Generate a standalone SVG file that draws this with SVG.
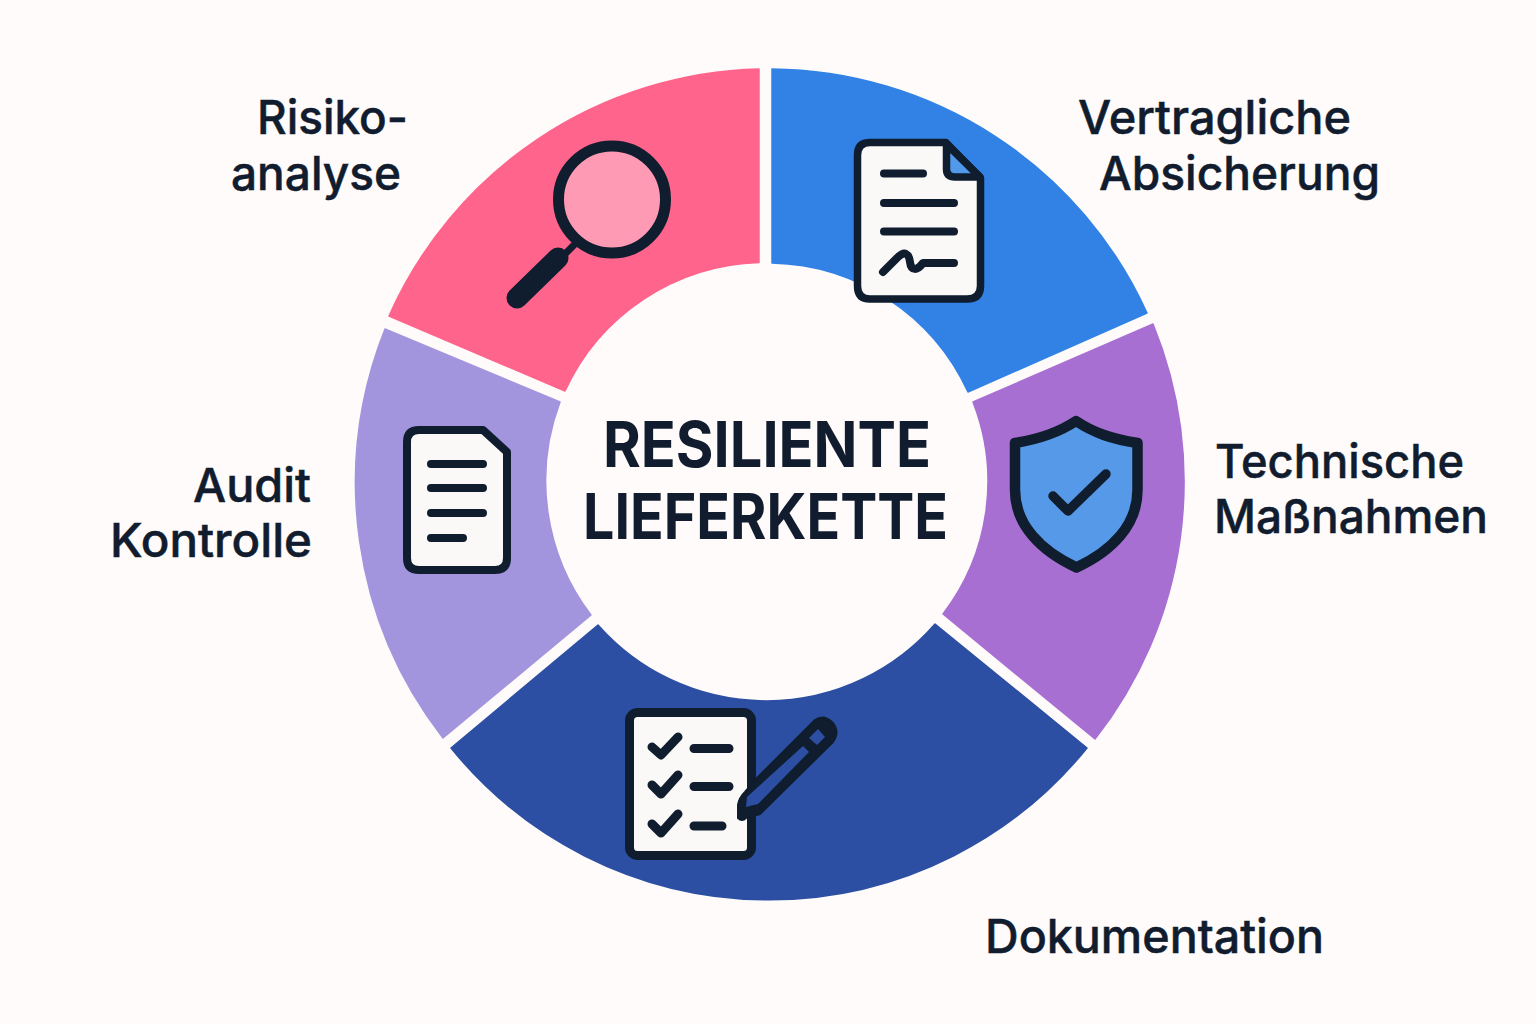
<svg xmlns="http://www.w3.org/2000/svg" width="1536" height="1024" viewBox="0 0 1536 1024">
<style>
text{font-family:Inter,"Liberation Sans",sans-serif;fill:#111c2e}
.l{font-size:47px;font-weight:500;stroke:#111c2e;stroke-width:.5}
.t{font-size:63px;font-weight:700}
.ic{stroke:#0f1d2e;stroke-linecap:round;stroke-linejoin:round;fill:none}
.p{fill:#fbf8f8}
.fold{fill:#5199ea}
.shield{fill:#5699e8}
.s{stroke-width:1.5;stroke-linejoin:round}
</style>
<rect width="1536" height="1024" fill="#fefbfa"/>
<g id="seg-risiko"><path class="s" d="M389 316A416 416 0 0 1 759 69V262.500A221 221 0 0 0 565 391Z" fill="#ff648c" stroke="#ff648c"/>
<circle cx="612" cy="199.500" r="53.500" fill="#ff9ab5" stroke="#0f1d2e" stroke-width="11"/>
<path class="ic" d="M575 244L562 257" stroke-width="7"/><path class="ic" d="M558 258L517 298" stroke-width="21"/></g>
<g id="seg-vertrag"><path class="s" d="M772 69A416 416 0 0 1 1147 313L968 392A221 221 0 0 0 772 263Z" fill="#3282e6" stroke="#3282e6"/>
<path class="p ic" d="M870 142.500H946L980.500 178V286Q980.500 299 967 299H870Q857.500 299 857.500 286V155Q857.500 142.500 870 142.500Z" stroke-width="7.500"/>
<path class="ic fold" d="M946.500 144V169Q946.500 177 955 177H980Z" stroke-width="7.500"/>
<path class="ic" d="M884 173.500H923M884 203H954M884 231.500H954M883 272L897 258C905 250 909 254 910 262C911 271 917 271 923 263H954" stroke-width="8"/></g>
<g id="seg-massnahmen"><path class="s" d="M1153 324A416 416 0 0 1 1095 739L943 614A218 218 0 0 0 973 402Z" fill="#a86fd3" stroke="#a86fd3"/>
<path class="ic shield" d="M1076 421C1094 433 1112 439 1137.500 443V490C1137.500 525 1112 551 1076.500 567.500C1041 551 1015 525 1015 490V443C1040 439 1058 433 1076 421Z" stroke-width="10.500"/>
<path class="ic" d="M1053 496L1068 511L1106 474" stroke-width="9.500"/></g>
<g id="seg-dokumentation"><path class="s" d="M1087 748A409 409 0 0 1 451 748L598 625A224 224 0 0 0 935 624Z" fill="#2c4fa3" stroke="#2c4fa3"/>
<rect class="p ic" x="629.500" y="712.500" width="122" height="143" rx="8" stroke-width="9"/>
<path class="ic" d="M652 747L661 755L678 737M652 785L661 794L678 775M652 824L661 833L678 814" stroke-width="9"/>
<path class="ic" d="M694 748.500H729M694 786.500H729M694 826H722" stroke-width="9"/>
<path d="M757 778L815 720Q824 714 833 723Q840 732 833 742L760 814Q752 817 746 816L746 818Q742 822 738 818V805Q739 798 745 792Z" fill="#0f1d2e" stroke="#0f1d2e" stroke-width="2" stroke-linejoin="round"/>
<path d="M746 807L747 797L803 746L809 752L758 804Z" fill="#2c4fa3"/><path d="M809 738L818 729L825 737L817 745Z" fill="#2c4fa3"/></g>
<g id="seg-audit"><path class="s" d="M443 738A416 416 0 0 1 385 329L560 402A222 222 0 0 0 591 615Z" fill="#a295de" stroke="#a295de"/>
<path class="p ic" d="M419 430H483L507 452V558Q507 570 495 570H419Q407 570 407 558V442Q407 430 419 430Z" stroke-width="8"/>
<path class="ic" d="M431 464H483M431 488H483M431 513H483M431 538H463" stroke-width="8"/></g>
<g id="center"><text class="t" x="603" y="467" textLength="328" lengthAdjust="spacingAndGlyphs">RESILIENTE</text>
<text class="t" x="583" y="539" textLength="365" lengthAdjust="spacingAndGlyphs">LIEFERKETTE</text></g>
<g id="labels">
<text class="l" x="257" y="134" textLength="151" lengthAdjust="spacingAndGlyphs">Risiko-</text><text class="l" x="231" y="190" textLength="170" lengthAdjust="spacingAndGlyphs">analyse</text>
<text class="l" x="1078" y="134" textLength="273" lengthAdjust="spacingAndGlyphs">Vertragliche</text><text class="l" x="1099" y="190" textLength="281" lengthAdjust="spacingAndGlyphs">Absicherung</text>
<text class="l" x="1215" y="478" textLength="249" lengthAdjust="spacingAndGlyphs">Technische</text><text class="l" x="1214" y="533" textLength="274" lengthAdjust="spacingAndGlyphs">Maßnahmen</text>
<text class="l" x="193" y="502" textLength="118" lengthAdjust="spacingAndGlyphs">Audit</text><text class="l" x="110" y="557" textLength="202" lengthAdjust="spacingAndGlyphs">Kontrolle</text>
<text class="l" x="985" y="953" textLength="339" lengthAdjust="spacingAndGlyphs">Dokumentation</text>
</g>
<g id="connectors"/>
</svg>
